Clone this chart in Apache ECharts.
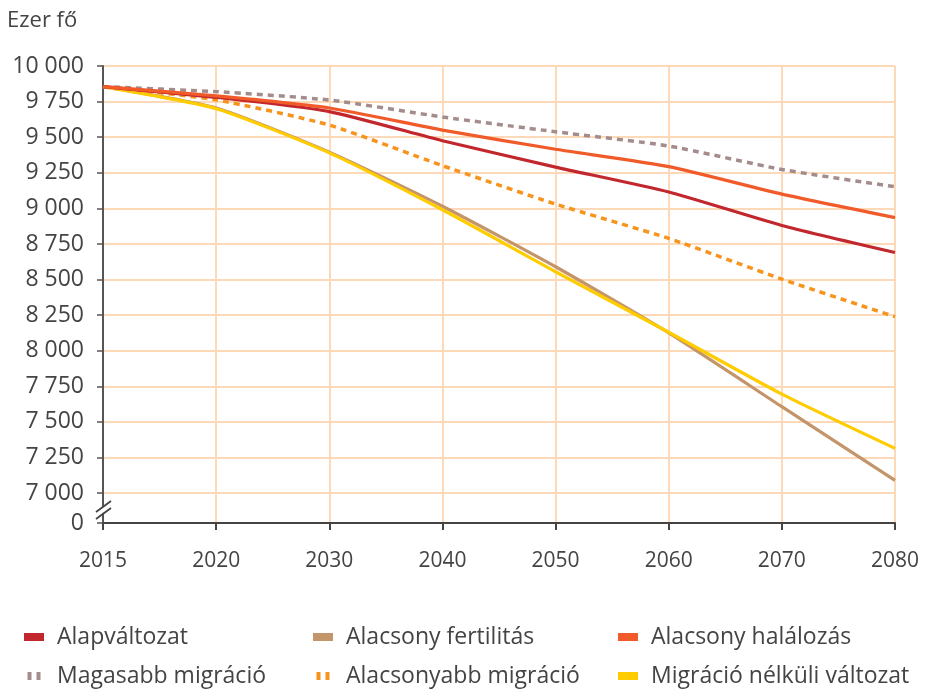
<!DOCTYPE html>
<html>
<head>
<meta charset="utf-8">
<script src="https://cdn.jsdelivr.net/npm/echarts@6/dist/echarts.min.js"></script>
<style>
  html, body { margin: 0; padding: 0; background: #fff; }
  #chart { width: 926px; height: 690px; }
</style>
</head>
<body>
<div id="chart"></div>
<script>
// Népesség-előrejelzés változatai, ezer fő
const years = ['2015', '2020', '2030', '2040', '2050', '2060', '2070', '2080'];
const alapvaltozat        = [9855, 9780, 9680, 9475, 9290, 9115, 8880, 8690];
const alacsonyFertilitas  = [9855, 9705, 9395, 9015, 8590, 8125, 7607, 7090];
const alacsonyHalalozas   = [9855, 9790, 9705, 9550, 9415, 9293, 9100, 8935];
const magasabbMigracio    = [9855, 9820, 9761, 9642, 9538, 9438, 9273, 9152];
const alacsonyabbMigracio = [9855, 9762, 9585, 9300, 9030, 8789, 8503, 8239];
const migracioNelkul      = [9855, 9700, 9390, 8990, 8555, 8130, 7695, 7314];

// Tengelyfeliratok: a 0 a megszakított tengely alján áll
const yBottom = 6790;
const yTicks = [yBottom, 7000, 7250, 7500, 7750, 8000, 8250, 8500, 8750, 9000, 9250, 9500, 9750, 10000];

const FONT = 'Open Sans';
const TEXT = '#444';
const GRID = '#fdd9b8';

const colors = {
  alap: '#c1272d',
  fert: '#c4956a',
  hal: '#f15a29',
  mag: '#a58c8c',
  alacs: '#f7941d',
  nelk: '#ffcc00'
};

const solidIcon = 'rect';
const dotIcon = 'path://M0,0h4v8h-4z M9,0h4v8h-4z';

function fmt(v) {
  if (v === yBottom) return '0';
  return String(v).replace(/\B(?=(\d{3})+(?!\d))/g, ' ');
}

function lineSeries(name, data, color, dotted, z) {
  return {
    name: name,
    type: 'line',
    data: data,
    symbol: 'none',
    smooth: 0.2,
    z: z,
    lineStyle: {
      color: color,
      width: dotted ? 3.5 : 3.2,
      type: dotted ? [6, 5] : 'solid',
      cap: 'butt'
    },
    itemStyle: { color: color }
  };
}

function legendCol(left, items) {
  return {
    orient: 'vertical',
    left: left,
    top: 624,
    height: 120,
    padding: 0,
    itemGap: 13,
    itemWidth: 20,
    itemHeight: 8,
    textStyle: { fontFamily: FONT, fontSize: 23, lineHeight: 26, color: TEXT, padding: [0, 0, 0, 8] },
    data: items
  };
}

const chart = echarts.init(document.getElementById('chart'), null, { renderer: 'canvas' });

chart.setOption({
  animation: false,
  backgroundColor: '#fff',
  textStyle: { fontFamily: FONT },
  title: {
    text: 'Ezer fő',
    left: 7,
    top: 10,
    padding: 0,
    textStyle: { fontFamily: FONT, fontSize: 22, fontWeight: 'normal', color: TEXT }
  },
  grid: { left: 103, right: 31, top: 66, bottom: 167, containLabel: false },
  legend: [
    legendCol(24, [
      { name: 'Alapváltozat', icon: solidIcon },
      { name: 'Magasabb migráció', icon: dotIcon, itemStyle: { color: colors.mag } }
    ]),
    legendCol(313, [
      { name: 'Alacsony fertilitás', icon: solidIcon },
      { name: 'Alacsonyabb migráció', icon: dotIcon, itemStyle: { color: colors.alacs } }
    ]),
    legendCol(618, [
      { name: 'Alacsony halálozás', icon: solidIcon },
      { name: 'Migráció nélküli változat', icon: solidIcon }
    ])
  ],
  xAxis: {
    type: 'category',
    data: years,
    boundaryGap: false,
    axisLine: { lineStyle: { color: '#444', width: 2 } },
    axisTick: { show: true, length: 7, lineStyle: { color: '#444', width: 2 } },
    axisLabel: { fontFamily: FONT, fontSize: 21, color: TEXT, margin: 28, interval: 0 },
    splitLine: { show: true, lineStyle: { color: GRID, width: 2 } }
  },
  yAxis: {
    type: 'value',
    min: yBottom,
    max: 10000,
    axisLine: { show: true, lineStyle: { color: '#555', width: 2 } },
    axisTick: { show: true, length: 6, lineStyle: { color: '#555', width: 1.5 }, customValues: yTicks },
    axisLabel: { fontFamily: FONT, fontSize: 23, color: TEXT, margin: 19, formatter: fmt, customValues: yTicks },
    splitLine: { show: true, lineStyle: { color: GRID, width: 2 } }
  },
  series: [
    lineSeries('Alacsony fertilitás', alacsonyFertilitas, colors.fert, false, 2),
    lineSeries('Migráció nélküli változat', migracioNelkul, colors.nelk, false, 3),
    lineSeries('Alacsonyabb migráció', alacsonyabbMigracio, colors.alacs, true, 4),
    lineSeries('Magasabb migráció', magasabbMigracio, colors.mag, true, 4),
    lineSeries('Alapváltozat', alapvaltozat, colors.alap, false, 5),
    lineSeries('Alacsony halálozás', alacsonyHalalozas, colors.hal, false, 6)
  ]
});

// Tengelymegszakítás jele a 7 000 és a 0 között
const pTop = chart.convertToPixel({ gridIndex: 0 }, [0, 7000]);
const pBot = chart.convertToPixel({ gridIndex: 0 }, [0, yBottom]);
const bx = pTop[0];
const by = (pTop[1] + pBot[1]) / 2 + 3;
chart.setOption({
  graphic: [
    {
      type: 'polygon', z: 100,
      shape: { points: [[bx - 7, by + 1], [bx + 7, by - 9], [bx + 7, by - 3], [bx - 7, by + 7]] },
      style: { fill: '#fff' }
    },
    {
      type: 'line', z: 101,
      shape: { x1: bx - 7, y1: by + 1, x2: bx + 8, y2: by - 10 },
      style: { stroke: '#444', lineWidth: 1.8 }
    },
    {
      type: 'line', z: 101,
      shape: { x1: bx - 7, y1: by + 8, x2: bx + 8, y2: by - 3 },
      style: { stroke: '#444', lineWidth: 1.8 }
    }
  ]
});
</script>
</body>
</html>
